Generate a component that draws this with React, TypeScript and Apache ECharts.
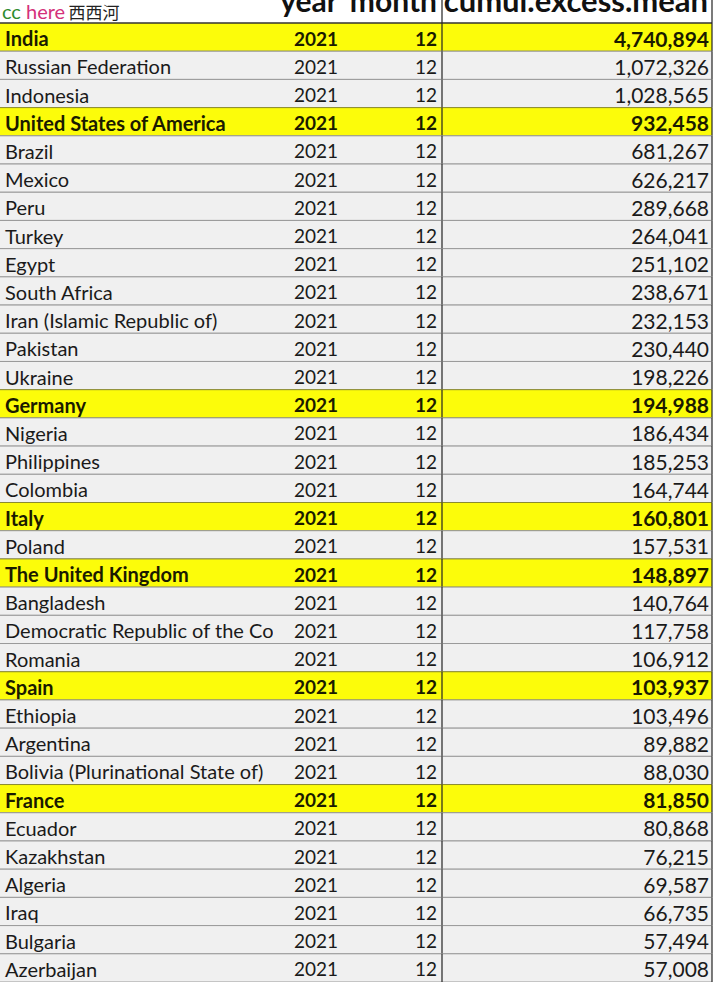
import React, { useEffect, useRef } from "react";
import * as echarts from "echarts";

const countries = [
  "India", "Russian Federation", "Indonesia", "United States of America", "Brazil", "Mexico",
  "Peru", "Turkey", "Egypt", "South Africa", "Iran (Islamic Republic of)", "Pakistan", "Ukraine",
  "Germany", "Nigeria", "Philippines", "Colombia", "Italy", "Poland", "The United Kingdom",
  "Bangladesh", "Democratic Republic of the Congo", "Romania", "Spain", "Ethiopia", "Argentina",
  "Bolivia (Plurinational State of)", "France", "Ecuador", "Kazakhstan", "Algeria", "Iraq",
  "Bulgaria", "Azerbaijan",
];
const years = [
  2021, 2021, 2021, 2021, 2021, 2021, 2021, 2021, 2021, 2021, 2021, 2021, 2021, 2021, 2021, 2021, 2021,
  2021, 2021, 2021, 2021, 2021, 2021, 2021, 2021, 2021, 2021, 2021, 2021, 2021, 2021, 2021, 2021, 2021,
];
const months = [
  12, 12, 12, 12, 12, 12, 12, 12, 12, 12, 12, 12, 12, 12, 12, 12, 12,
  12, 12, 12, 12, 12, 12, 12, 12, 12, 12, 12, 12, 12, 12, 12, 12, 12,
];
const cumulExcessMean = [
  4740894, 1072326, 1028565, 932458, 681267, 626217, 289668, 264041, 251102, 238671, 232153,
  230440, 198226, 194988, 186434, 185253, 164744, 160801, 157531, 148897, 140764, 117758,
  106912, 103937, 103496, 89882, 88030, 81850, 80868, 76215, 69587, 66735, 57494, 57008,
];
const highlighted = [
  "India", "United States of America", "Germany", "Italy", "The United Kingdom", "Spain", "France",
];
const headers = ["country", "year", "month", "cumul.excess.mean"];

const FONT = "Lato, 'Noto Sans', sans-serif";
const RIGHT = 712;
const MID = 442;

export default function App() {
  const ref = useRef<HTMLDivElement>(null);
  useEffect(() => {
    document.body.style.margin = "0";
    const chart = echarts.init(ref.current!, null, { renderer: "svg" });
    const fmt = (v: number) => v.toLocaleString("en-US");
    chart.setOption({
      animation: false,
      backgroundColor: "#ffffff",
      grid: { left: 0, top: 23, width: 720, height: 34 * 28.3 },
      xAxis: { type: "value", min: 0, max: 720, show: false },
      yAxis: { type: "category", inverse: true, data: countries, show: false },
      series: [
        {
          type: "custom",
          clip: false,
          data: countries.map((c, i) => [0, i, years[i], months[i], cumulExcessMean[i]]),
          encode: { x: 0, y: 1 },
          renderItem: (params: any, api: any) => {
            const idx = api.value(1);
            const cy = api.coord([0, idx])[1];
            const h = api.size([0, 1])[1];
            const top = cy - h / 2;
            const name = countries[idx];
            const hl = highlighted.includes(name);
            const weight = hl ? "bold" : "normal";
            const color = hl ? "#1a1a00" : "#1a1a1a";
            const lineColor = hl ? "#8a8a30" : "#9a9a9a";
            return {
              type: "group",
              children: [
                { type: "rect", shape: { x: 0, y: top, width: RIGHT, height: h }, style: { fill: hl ? "#fcfc0a" : "#f0f0f0" } },
                { type: "line", shape: { x1: 0, y1: top, x2: RIGHT, y2: top }, style: { stroke: idx === 0 ? "#333" : lineColor, lineWidth: idx === 0 ? 1.5 : 1 } },
                { type: "line", shape: { x1: 0, y1: top + h, x2: RIGHT, y2: top + h }, style: { stroke: lineColor, lineWidth: 1 } },
                { type: "line", shape: { x1: MID, y1: top, x2: MID, y2: top + h }, style: { stroke: "#222", lineWidth: 1.2 } },
                { type: "line", shape: { x1: RIGHT, y1: top, x2: RIGHT, y2: top + h }, style: { stroke: "#222", lineWidth: 1.2 } },
                {
                  type: "text",
                  clipPath: { type: "rect", shape: { x: 0, y: top, width: 273, height: h } },
                  style: { x: 5, y: cy + 1, text: name, fontFamily: FONT, fontSize: 20, fontWeight: weight, fill: color, verticalAlign: "middle", align: "left" },
                },
                { type: "text", style: { x: 338, y: cy + 1, text: String(api.value(2)), fontFamily: FONT, fontSize: 19, fontWeight: weight, fill: color, verticalAlign: "middle", align: "right" } },
                { type: "text", style: { x: 437, y: cy + 1, text: String(api.value(3)), fontFamily: FONT, fontSize: 19, fontWeight: weight, fill: color, verticalAlign: "middle", align: "right" } },
                { type: "text", style: { x: 709, y: cy + 1, text: fmt(api.value(4)), fontFamily: FONT, fontSize: 21, fontWeight: weight, fill: color, verticalAlign: "middle", align: "right" } },
              ],
            };
          },
        },
      ],
      graphic: [
        { type: "text", left: 10, top: -14, style: { text: headers[0], font: `bold 30px ${FONT}`, fill: "#e0e0e0" }, z: 1 },
        { type: "rect", shape: { x: 0, y: 0, width: 124, height: 21 }, style: { fill: "#ffffff" }, z: 2 },
        {
          type: "text", x: 2, y: 11, z: 3,
          style: {
            text: "{g|cc }{p|here} {k|西西河}", verticalAlign: "middle",
            rich: {
              g: { fill: "#2e8b2e", fontSize: 20, fontFamily: FONT },
              p: { fill: "#d4307a", fontSize: 20, fontFamily: FONT },
              k: { fill: "#222", fontSize: 17, fontFamily: "'Noto Sans CJK SC'" },
            },
          },
        },
        { type: "text", z: 3, style: { x: 338, y: 15, text: headers[1], font: `bold 30px ${FONT}`, fill: "#111", align: "right", verticalAlign: "bottom" } },
        { type: "text", z: 3, style: { x: 437, y: 15, text: headers[2], font: `bold 30px ${FONT}`, fill: "#111", align: "right", verticalAlign: "bottom" } },
        { type: "text", z: 3, style: { x: 708, y: 15, text: headers[3], font: `bold 31px ${FONT}`, fill: "#111", align: "right", verticalAlign: "bottom" } },
        { type: "line", z: 3, shape: { x1: MID, y1: 0, x2: MID, y2: 23 }, style: { stroke: "#222", lineWidth: 1.2 } },
        { type: "line", z: 3, shape: { x1: RIGHT, y1: 0, x2: RIGHT, y2: 23 }, style: { stroke: "#222", lineWidth: 1.2 } },
      ],
    });
    return () => chart.dispose();
  }, []);
  return <div ref={ref} style={{ width: 720, height: 982 }} />;
}
